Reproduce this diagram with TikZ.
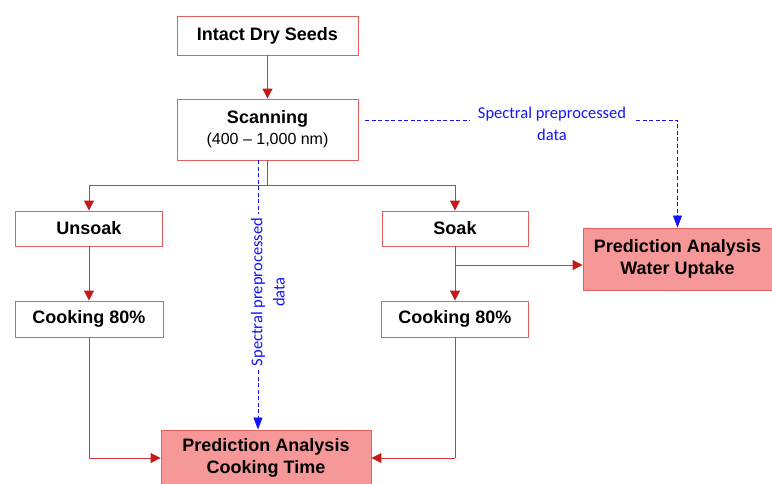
\documentclass[tikz,border=0pt]{standalone}
\usepackage{fontspec}
\setmainfont{Liberation Sans}
\newfontfamily\calib{Carlito}
\usetikzlibrary{arrows.meta}
\definecolor{boxred}{RGB}{230,95,95}
\definecolor{arrred}{RGB}{200,25,25}
\definecolor{linered}{RGB}{215,55,55}
\definecolor{pinkfill}{RGB}{246,152,152}
\definecolor{myblue}{RGB}{20,20,250}
\tikzset{
  box/.style={draw=boxred, line width=0.9pt, rectangle, inner sep=0pt, align=center,
    font=\bfseries\fontsize{18}{22}\selectfont},
  predbox/.style={box, fill=pinkfill, draw=boxred},
  redline/.style={draw=linered, line width=1pt},
  redarr/.style={redline, -{Triangle[width=10pt,length=10pt,color=arrred]}},
  bluedash/.style={draw=myblue, line width=0.8pt, dash pattern=on 4pt off 2.5pt},
  bluearr/.style={bluedash, -{Triangle[width=9pt,length=12pt]}},
  bluetext/.style={text=myblue, inner sep=0pt, font=\calib\fontsize{16.5}{22}\selectfont, align=center}
}
\begin{document}
\begin{tikzpicture}[x=1pt,y=-1pt]
\useasboundingbox (0,0) rectangle (772,483);
\node[box, minimum width=181pt, minimum height=39pt] (intact) at (267.5,35.5) {Intact Dry Seeds};
\node[box, minimum width=181pt, minimum height=61pt] (scan) at (267.5,129.5)
  {Scanning\\[-1pt]{\mdseries\fontsize{16}{20}\selectfont (400 – 1,000 nm)}};
\node[box, minimum width=147pt, minimum height=35pt] (unsoak) at (89,228.5) {Unsoak};
\node[box, minimum width=146pt, minimum height=35pt] (soak) at (455,228.5) {Soak};
\node[box, minimum width=148pt, minimum height=36pt] (cookL) at (89,319) {Cooking 80\%};
\node[box, minimum width=147pt, minimum height=36pt] (cookR) at (455,319) {Cooking 80\%};
\node[predbox, minimum width=189pt, minimum height=62pt] (water) at (677.5,259) {Prediction Analysis\\Water Uptake};
\node[predbox, minimum width=210pt, minimum height=56pt] (ctime) at (266,458) {Prediction Analysis\\Cooking Time};

% red connectors
\draw[redarr] (intact) -- (scan);
\coordinate (split) at (267.5,185);
\draw[redline] (scan.south) -- (split);
\draw[redarr] (split) -| (unsoak.north);
\draw[redarr] (split) -| (soak.north);
\draw[redarr] (unsoak) -- (cookL);
\draw[redarr] (soak) -- (cookR);
\coordinate (branch) at (455,265);
\draw[redarr] (branch) -- (water.west |- branch);
\coordinate (cornL) at (89,458);
\coordinate (cornR) at (455,458);
\draw[redline] (cookL.south) -- (cornL);
\draw[redarr] (cornL) -- (ctime.west);
\draw[redline] (cookR.south) -- (cornR);
\draw[redarr] (cornR) -- (ctime.east);

% blue dashed: horizontal
\node[bluetext] (lab1) at (552,124) {Spectral preprocessed\\data};
\coordinate (d1) at (365,120);
\draw[bluedash] (d1) -- (470,120);
\coordinate (d2) at (636,120);
\draw[bluearr] (d2) -| (water.north);

% blue dashed: vertical
\node[bluetext, rotate=90, inner xsep=4pt] (lab2a) at (258,292) {Spectral preprocessed};
\node[bluetext, rotate=90] (lab2b) at (279,292) {data};
\draw[bluedash] (scan.south -| lab2a) -- (lab2a.east);
\draw[bluearr] (lab2a.west) -- (ctime.north -| lab2a);
\end{tikzpicture}
\end{document}
